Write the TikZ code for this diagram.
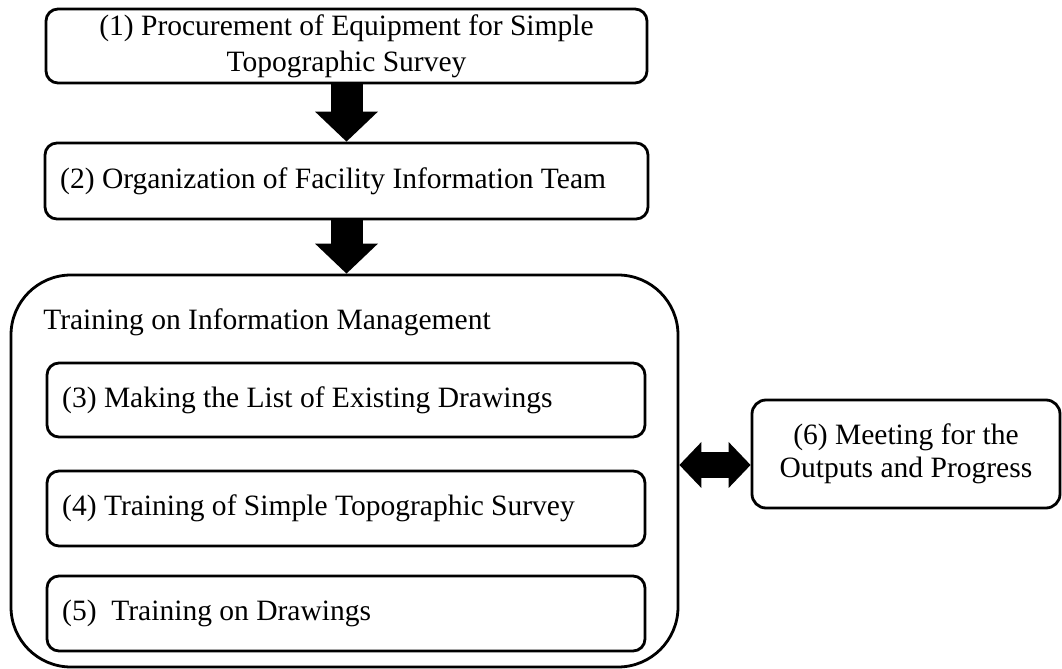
\documentclass[tikz,border=0pt]{standalone}
\usepackage{fontspec}
\setmainfont{Liberation Serif}
\usetikzlibrary{arrows.meta}

\begin{document}
\begin{tikzpicture}[
    every node/.style={font=\fontsize{21}{25.5}\selectfont},
    box/.style={draw, line width=2pt, rounded corners=0.3cm, minimum height=1.85cm, inner xsep=0.38cm, inner ysep=0pt},
    bigarrow/.style={line width=0.8cm, -{Triangle[width=1.575cm,length=0.75cm,line width=0pt]}},
    dblarrow/.style={line width=0.65cm, {Triangle[width=1.15cm,length=0.55cm,line width=0pt]}-{Triangle[width=1.15cm,length=0.55cm,line width=0pt]}}
    ]
        \useasboundingbox (0,0) rectangle (26.55,-16.725);

        % steps (1) and (2)
        \node[box, minimum width=15.025cm, align=center] (proc) at (8.6625,-1.15) {(1) Procurement of Equipment for Simple\\Topographic Survey};
        \node[box, minimum height=1.9cm, text width=14.315cm, align=flush left] (team) at (8.6625,-4.525) {(2) Organization of Facility Information Team};

        % training block
        \node[draw, line width=2pt, rounded corners=1.5cm, minimum width=16.675cm, minimum height=9.8cm] (train) at (8.6125,-11.775) {};
        \node[anchor=base west, inner sep=0pt] (traintitle) at (1.075,-8.25) {Training on Information Management};
        \node[box, text width=14.19cm, align=flush left] (list) at (8.65,-10.0) {(3) Making the List of Existing Drawings};
        \node[box, minimum height=1.875cm, text width=14.19cm, align=flush left] (survey) at (8.65,-12.7125) {(4) Training of Simple Topographic Survey};
        \node[box, minimum height=1.875cm, text width=14.19cm, align=flush left] (drawings) at (8.65,-15.3375) {(5)\ \ Training on Drawings};

        % step (6)
        \node[box, rounded corners=0.35cm, minimum width=7.7cm, minimum height=2.7cm, align=center, font=\fontsize{21}{23.5}\selectfont] (meet) at (22.65,-11.35) {(6) Meeting for the\\Outputs and Progress};

        \draw[bigarrow] (proc.south) -- (team.north);
        \draw[bigarrow] (team.south) -- (team.south |- train.north);
        \draw[dblarrow] ([yshift=0.15cm]train.east) -- ([yshift=-0.275cm]meet.west);
\end{tikzpicture}
\end{document}
